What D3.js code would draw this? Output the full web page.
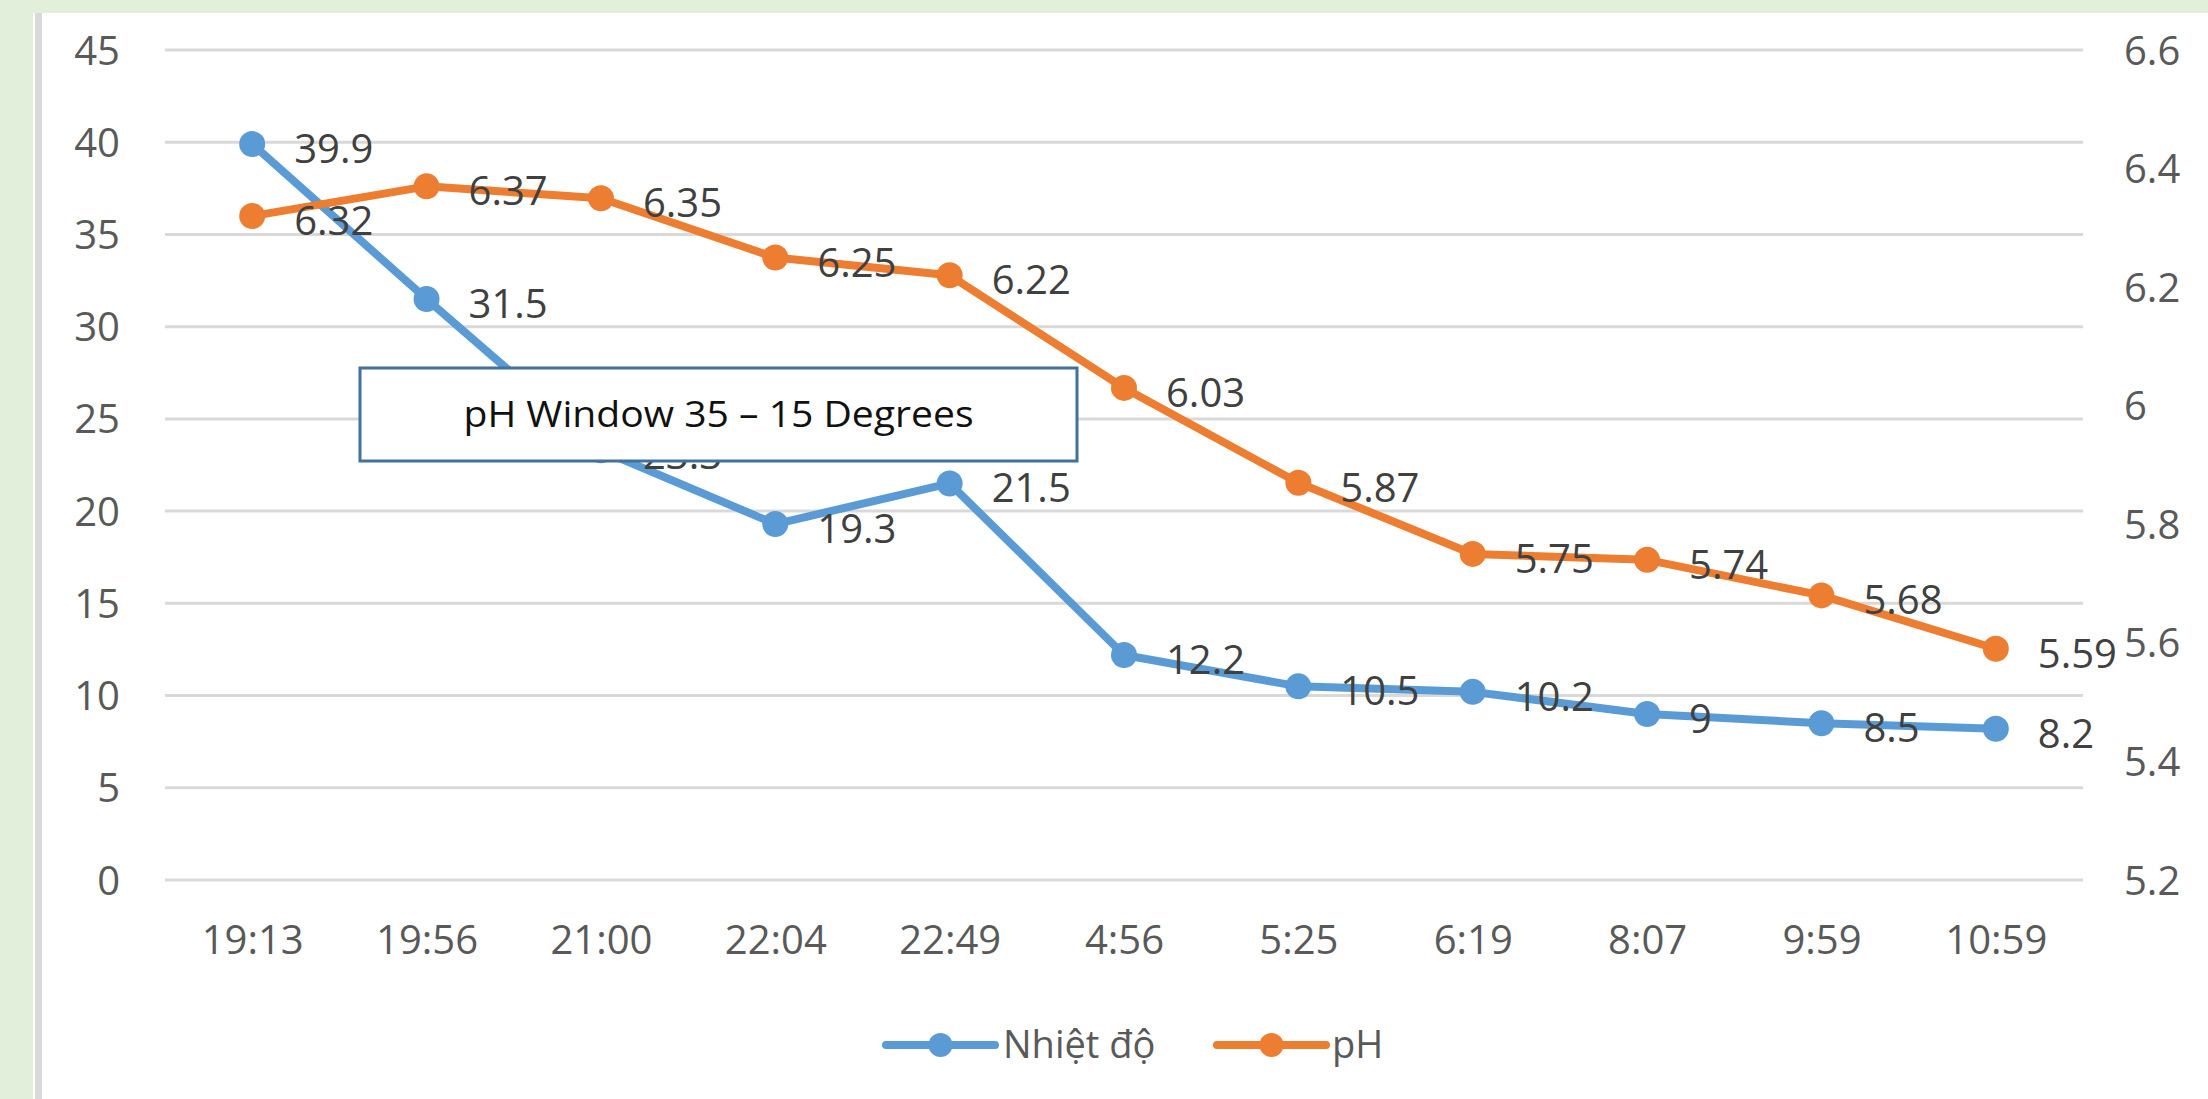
<!DOCTYPE html>
<html>
<head>
<meta charset="utf-8">
<script src="https://cdn.jsdelivr.net/npm/d3@7"></script>
<style>
  html, body { margin: 0; padding: 0; background: #e2efda; }
  svg { display: block; }
</style>
</head>
<body>
<svg id="chart" width="2208" height="1099"></svg>
<script>
const categories = ["19:13","19:56","21:00","22:04","22:49","4:56","5:25","6:19","8:07","9:59","10:59"];
const temperature = [39.9, 31.5, 23.3, 19.3, 21.5, 12.2, 10.5, 10.2, 9, 8.5, 8.2];
const ph = [6.32, 6.37, 6.35, 6.25, 6.22, 6.03, 5.87, 5.75, 5.74, 5.68, 5.59];
const leftTicks = [0, 5, 10, 15, 20, 25, 30, 35, 40, 45];
const rightTicks = [5.2, 5.4, 5.6, 5.8, 6, 6.2, 6.4, 6.6];
const seriesNames = ["Nhiệt độ", "pH"];
const annotationText = "pH Window 35 – 15 Degrees";

const W = 2208, H = 1099;
const FONT = "'Open Sans', 'Noto Sans', sans-serif";
const BLUE = "#5b9bd5", ORANGE = "#ed7d31";

const svg = d3.select("#chart");

// background
svg.append("rect").attr("x", 0).attr("y", 0).attr("width", W).attr("height", H).attr("fill", "#e2efda");
svg.append("rect").attr("x", 33).attr("y", 13).attr("width", W - 33).attr("height", H - 13).attr("fill", "#ffffff");
svg.append("rect").attr("x", 35).attr("y", 13).attr("width", 7).attr("height", H - 13).attr("fill", "#d9d9d9");

const plot = { left: 165, right: 2083, top: 50, bottom: 880 };

const x = d3.scalePoint().domain(categories).range([plot.left, plot.right]).padding(0.5);
const yL = d3.scaleLinear().domain([0, 45]).range([plot.bottom, plot.top]);
const yR = d3.scaleLinear().domain([5.2, 6.6]).range([plot.bottom, plot.top]);

// gridlines
svg.append("g").selectAll("line").data(leftTicks).join("line")
  .attr("x1", plot.left).attr("x2", plot.right)
  .attr("y1", d => yL(d)).attr("y2", d => yL(d))
  .attr("stroke", "#d9d9d9").attr("stroke-width", 3);

// left axis
const leftAxis = d3.axisLeft(yL).tickValues(leftTicks).tickSize(0).tickPadding(0).tickFormat(d3.format("d"));
const gL = svg.append("g").attr("transform", "translate(120,0)").call(leftAxis);
gL.select(".domain").remove();
gL.selectAll("text").attr("font-family", FONT).attr("font-size", 40).attr("fill", "#595959").attr("dy", "0.35em");

// right axis
const rightAxis = d3.axisRight(yR).tickValues(rightTicks).tickSize(0).tickPadding(0).tickFormat(d => d3.format("")(+d.toFixed(1)));
const gR = svg.append("g").attr("transform", "translate(2124,0)").call(rightAxis);
gR.select(".domain").remove();
gR.selectAll("text").attr("font-family", FONT).attr("font-size", 40).attr("fill", "#595959").attr("dy", "0.35em");

// x axis
const xAxis = d3.axisBottom(x).tickSize(0).tickPadding(0);
const gX = svg.append("g").attr("transform", "translate(0,940)").call(xAxis);
gX.select(".domain").remove();
gX.selectAll("text").attr("font-family", FONT).attr("font-size", 40).attr("fill", "#595959").attr("dy", "0.35em");

// series
const series = [
  { name: seriesNames[0], values: temperature, y: yL, color: BLUE },
  { name: seriesNames[1], values: ph, y: yR, color: ORANGE }
];

series.forEach(s => {
  const line = d3.line().x((d, i) => x(categories[i])).y(d => s.y(d));
  svg.append("path").datum(s.values).attr("d", line)
    .attr("fill", "none").attr("stroke", s.color).attr("stroke-width", 8)
    .attr("stroke-linejoin", "round").attr("stroke-linecap", "round");
  svg.append("g").selectAll("circle").data(s.values).join("circle")
    .attr("cx", (d, i) => x(categories[i])).attr("cy", d => s.y(d)).attr("r", 13)
    .attr("fill", s.color);
});

// data labels
series.forEach(s => {
  svg.append("g").selectAll("text").data(s.values).join("text")
    .attr("x", (d, i) => x(categories[i]) + 42)
    .attr("y", d => s.y(d) + 5)
    .attr("dy", "0.35em")
    .attr("font-family", FONT).attr("font-size", 40).attr("fill", "#404040")
    .text(d => d);
});

// annotation box (anchored to data coordinates of the 21:00 category area)
const boxX = 360, boxY = 368, boxW = 717, boxH = 93;
svg.append("rect").attr("x", boxX).attr("y", boxY).attr("width", boxW).attr("height", boxH)
  .attr("fill", "#ffffff").attr("stroke", "#41719c").attr("stroke-width", 3);
svg.append("text").attr("x", boxX + boxW / 2).attr("y", boxY + boxH / 2).attr("dy", "0.35em")
  .attr("text-anchor", "middle").attr("font-family", FONT).attr("font-size", 36).attr("fill", "#111")
  .attr("textLength", 510).attr("lengthAdjust", "spacingAndGlyphs")
  .text(annotationText);

// legend
const legend = [
  { name: seriesNames[0], color: BLUE, x1: 886, x2: 995, tx: 1003 },
  { name: seriesNames[1], color: ORANGE, x1: 1217, x2: 1326, tx: 1332 }
];
const ly = 1045;
legend.forEach(l => {
  svg.append("line").attr("x1", l.x1).attr("x2", l.x2).attr("y1", ly).attr("y2", ly)
    .attr("stroke", l.color).attr("stroke-width", 8).attr("stroke-linecap", "round");
  svg.append("circle").attr("cx", (l.x1 + l.x2) / 2).attr("cy", ly).attr("r", 12).attr("fill", l.color);
  svg.append("text").attr("x", l.tx).attr("y", ly).attr("dy", "0.35em")
    .attr("font-family", FONT).attr("font-size", 38).attr("fill", "#595959").text(l.name);
});
</script>
</body>
</html>
